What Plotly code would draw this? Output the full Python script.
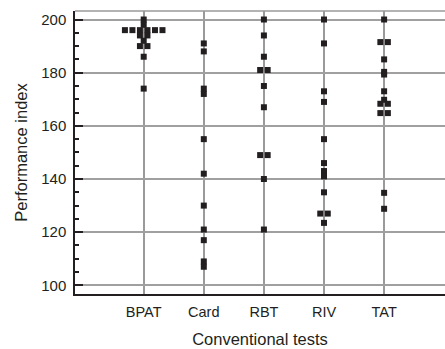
import plotly.graph_objects as go

categories = ["BPAT", "Card", "RBT", "RIV", "TAT"]
bpat = [200, 198, 196, 196, 196, 196, 196, 196, 194, 194, 192, 190, 190, 186, 174]
card = [191, 188, 174, 172, 155, 142, 130, 121, 117, 109, 107]
rbt = [200, 194, 186, 181, 181, 175, 167, 149, 149, 140, 121]
riv = [200, 191, 173, 169, 155, 146, 143, 141, 135, 127, 127, 123.5]
tat = [200, 191.5, 191.5, 185, 180.3, 179.3, 173, 169.8, 168.3, 168.3, 164.8, 164.8, 134.8, 128.8]
series = [bpat, card, rbt, riv, tat]
y_ticks = [100, 120, 140, 160, 180, 200]

FONT = "Liberation Sans Narrow, Arial Narrow, Liberation Sans, Arial, sans-serif"
SPREAD = 0.125  # horizontal spacing (category units) between tied values

xs, ys = [], []
for ci, vals in enumerate(series):
    counts = {}
    for v in vals:
        counts[v] = counts.get(v, 0) + 1
    seen = {}
    for v in vals:
        n = counts[v]
        i = seen.get(v, 0)
        seen[v] = i + 1
        xs.append(ci + (i - (n - 1) / 2) * SPREAD)
        ys.append(v)

fig = go.Figure()
fig.add_trace(go.Scatter(
    x=xs, y=ys, mode="markers",
    marker=dict(symbol="square", size=6, color="#231f20", line=dict(width=0)),
    hoverinfo="skip", showlegend=False,
))

fig.update_layout(
    width=445, height=349,
    margin=dict(l=75, r=0, t=11, b=55),
    paper_bgcolor="white", plot_bgcolor="white",
    font=dict(family=FONT, size=15, color="#231f20"),
    shapes=[dict(type="line", xref="paper", yref="paper", x0=0, x1=1, y0=1, y1=1,
                 line=dict(color="#9a9a9a", width=1.5))],
)
fig.update_xaxes(
    range=[-1.143, 5.013],
    tickmode="array", tickvals=list(range(len(categories))), ticktext=categories,
    ticks="", showgrid=True, gridcolor="#9a9a9a", gridwidth=2, zeroline=False,
    showline=True, linecolor="#231f20", linewidth=1.5,
    tickfont=dict(size=14.5), ticklabelstandoff=4,
    title=dict(text="Conventional tests", font=dict(size=16.5), standoff=14),
)
fig.update_yaxes(
    range=[96.75, 203.2],
    tickmode="array", tickvals=y_ticks,
    ticks="inside", ticklen=8, tickwidth=1.5, tickcolor="#231f20",
    minor=dict(dtick=5, tick0=100, ticks="inside", ticklen=4, tickwidth=1.5,
               tickcolor="#231f20", showgrid=False),
    showgrid=True, gridcolor="#a0a0a0", gridwidth=1.5, zeroline=False,
    showline=True, linecolor="#231f20", linewidth=1.5,
    tickfont=dict(size=15), ticklabelstandoff=4,
    title=dict(text="Performance index", font=dict(size=16.5), standoff=9),
)

fig.write_html("out.html", config={"displayModeBar": False},
               post_script="document.body.style.margin='0px';")
